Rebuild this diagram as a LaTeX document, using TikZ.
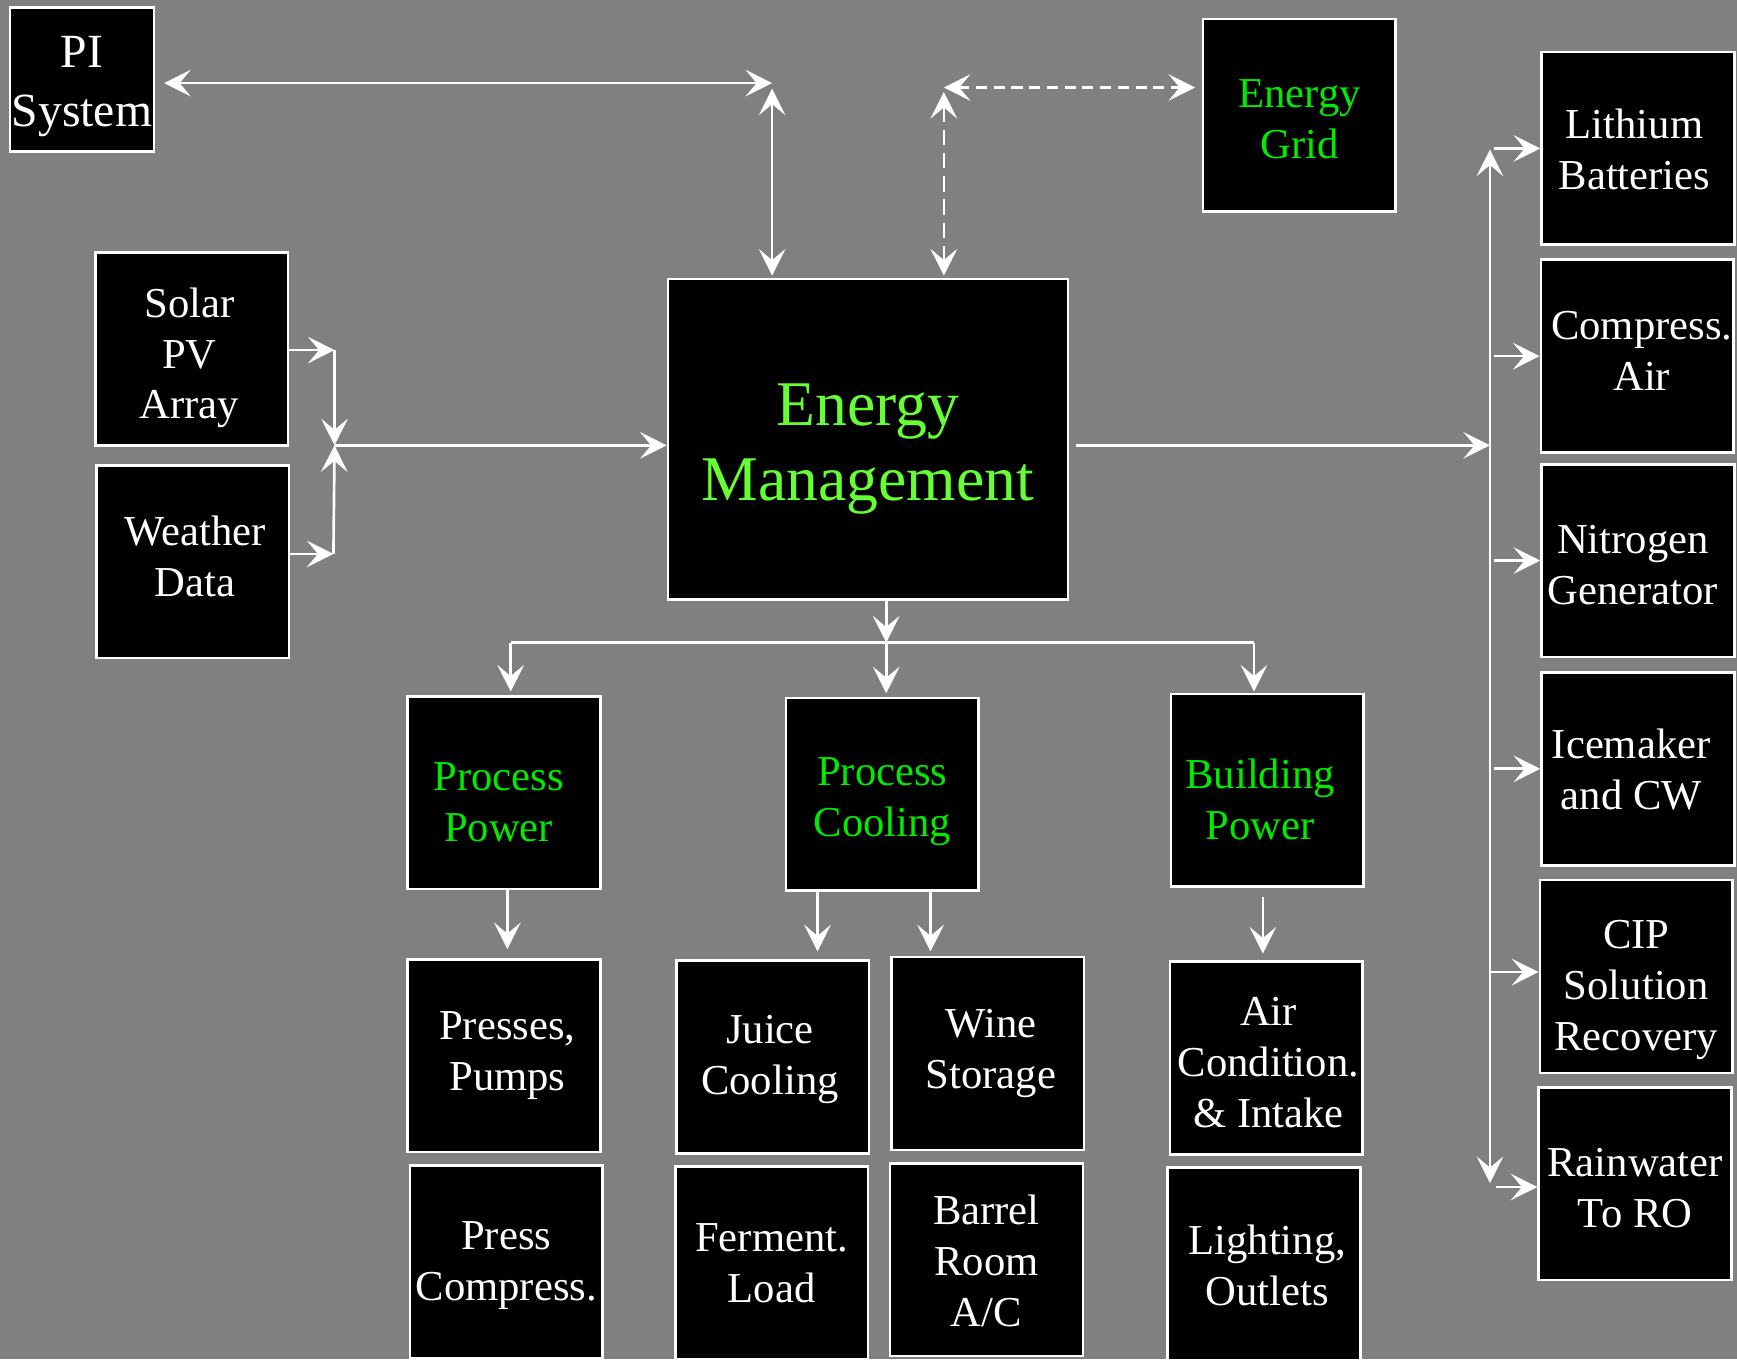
\documentclass[tikz,border=0pt]{standalone}
\usepackage{fontspec}
\setmainfont{Liberation Serif}
\usetikzlibrary{arrows.meta,calc}
\definecolor{bggray}{RGB}{128,128,128}
\definecolor{tgreen}{RGB}{0,235,0}
\definecolor{emgreen}{RGB}{102,255,51}
\tikzset{
  box/.style={draw=white, fill=black, line width=1.2pt, inner sep=0pt, text=white,
    align=center, minimum width=87pt, minimum height=87pt,
    font=\fontsize{19.25pt}{23pt}\selectfont},
  gbox/.style={box, text=tgreen},
  conn/.style={draw=white, line width=1.2pt},
  tip/.tip={Stealth[length=12pt, width=12pt, inset=5pt]},
  arr/.style={conn, -tip},
  dbl/.style={conn, tip-tip},
  dshh/.style={dash pattern=on 5pt off 3pt},
  dshv/.style={dash pattern=on 7pt off 3.5pt}
}
% box with text shifted: [opts]{name}{x,y}{dx}{dy}{text}
\newcommand\bx[6][]{%
  \node[box,#1] (#2) at (#3) {};
  \node[box,#1,draw=none,fill=none,minimum width=0pt,minimum height=0pt] (#2-t)
    at ([xshift=#4,yshift=#5]#2.center) {#6};}
\begin{document}
\begin{tikzpicture}[x=0.5pt,y=-0.5pt]
\useasboundingbox (0,0) rectangle (1568,1227);
\clip (0,0) rectangle (1568,1227);
\fill[bggray] (0,0) rectangle (1568,1227);

% nodes
\bx[minimum width=65pt, minimum height=65pt, font=\fontsize{21.5pt}{26.5pt}\selectfont]{pi}{74,72}{0pt}{-3pt}{PI\\System}
\bx[text=tgreen]{grid}{1173,104}{0pt}{-2pt}{Energy\\Grid}
\bx{solar}{173,315}{-1pt}{-4pt}{Solar\\PV\\Array}
\bx{weather}{174,507}{1pt}{2.25pt}{Weather\\Data}
\bx[text=emgreen, minimum width=180.5pt, minimum height=144.5pt, font=\fontsize{28.75pt}{34pt}\selectfont]{em}{783.5,396.5}{0pt}{-4.5pt}{Energy\\Management}
\bx[text=tgreen]{ppow}{455,715.5}{-2.5pt}{-4.25pt}{Process\\Power}
\bx[text=tgreen]{pcool}{796.5,717}{0pt}{-3.25pt}{Process\\Cooling}
\bx[text=tgreen]{bpow}{1144,713.5}{-3.25pt}{-4.25pt}{Building\\Power}
\bx{presses}{455,953}{1.5pt}{0pt}{Presses,\\Pumps}
\bx{juice}{697.5,954}{-1.25pt}{-1pt}{Juice\\Cooling}
\bx{wine}{891.5,951}{1.5pt}{0pt}{Wine\\Storage}
\bx{aircon}{1143,955}{1pt}{-2pt}{Air\\Condition.\\\& Intake}
\bx{presscomp}{457,1139}{0pt}{-1.75pt}{Press\\Compress.}
\bx{ferment}{696.5,1140}{0pt}{0pt}{Ferment.\\Load}
\bx{barrel}{890.5,1137}{0pt}{-0.75pt}{Barrel\\Room\\A/C}
\bx{lighting}{1141,1141}{1.5pt}{-0.75pt}{Lighting,\\Outlets}
\bx{lith}{1478.5,134}{-1.5pt}{-0.5pt}{Lithium\\Batteries}
\bx{comp}{1478,321.5}{2pt}{2.25pt}{Compress.\\Air}
\bx{nitro}{1478.5,506}{-2.25pt}{-2pt}{Nitrogen\\Generator}
\bx{ice}{1478.5,694}{-3pt}{-0.5pt}{Icemaker\\and CW}
\bx{cip}{1477,881.5}{0pt}{-6.25pt}{CIP\\Solution\\Recovery}
\bx{rain}{1476,1068.5}{0pt}{-2pt}{Rainwater\\To RO}

% junction coordinates
\coordinate (c1) at (697,75);
\coordinate (c2) at (852,79);
\coordinate (j1) at (302,402);
\coordinate (s1) at (302,316);
\coordinate (w1) at (301,500);
\coordinate (bus) at (1345,402);
\coordinate (bustop) at (1345,135);
\coordinate (busbot) at (1345,1068);
\coordinate (jb) at (800,580);
\coordinate (hl) at (461,580);
\coordinate (hr) at (1132,580);

% PI System link
\draw[dbl] ([xshift=4pt,yshift=-1.5pt]pi.east) -- (c1);
\draw[dbl] ([yshift=-2.5pt]c1) -- ([yshift=1pt]em.north -| c1);
% Energy Grid link (dashed)
\draw[dbl,dshh] (c2) -- ([xshift=-3pt]grid.west |- c2);
\draw[dbl,dshv] ([yshift=-2pt]c2) -- ([yshift=1pt]em.north -| c2);

% inputs
\draw[arr] (solar.east |- s1) -- (s1);
\draw[arr] (s1) -- (j1);
\draw[arr] (weather.east |- w1) -- (w1);
\draw[arr] (w1) -- (j1);
\draw[arr] (j1) -- (em.west |- j1);

% outputs to right bus
\draw[arr] ([xshift=3pt]em.east |- bus) -- (bus);
\draw[dbl] (bustop) -- (busbot);
\draw[arr] ([xshift=-21pt]lith.west) -- (lith.west);
\draw[arr] ([xshift=-20.5pt]comp.west) -- (comp.west);
\draw[arr] ([xshift=-21pt]nitro.west) -- (nitro.west);
\draw[arr] ([xshift=-21pt]ice.west) -- (ice.west);
\draw[arr] ([xshift=-22.5pt,yshift=2pt]cip.west) -- ([yshift=2pt]cip.west);
\draw[arr] ([xshift=-18.5pt,yshift=-1.5pt]rain.west) -- ([yshift=-1.5pt]rain.west);

% downward tree
\draw[arr] (em.south -| jb) -- (jb);
\draw[conn] (hl) -- (hr);
\draw[arr] (hl) -- ([yshift=1.5pt]hl |- ppow.north);
\draw[arr] (jb) -- ([yshift=1.5pt]jb |- pcool.north);
\draw[arr] (hr) -- ([yshift=0.5pt]hr |- bpow.north);

\draw[arr] ([xshift=1.5pt]ppow.south) -- ([xshift=1.5pt,yshift=4pt]ppow.south |- presses.north);
\draw[arr] ([xshift=-29.25pt]pcool.south) -- ([xshift=-29.25pt,yshift=3.5pt]pcool.south |- juice.north);
\draw[arr] ([xshift=21.75pt]pcool.south) -- ([xshift=21.75pt,yshift=2pt]pcool.south |- wine.north);
\draw[arr] ([xshift=-2pt,yshift=-4pt]bpow.south) -- ([xshift=-2pt,yshift=3pt]bpow.south |- aircon.north);
\end{tikzpicture}
\end{document}
